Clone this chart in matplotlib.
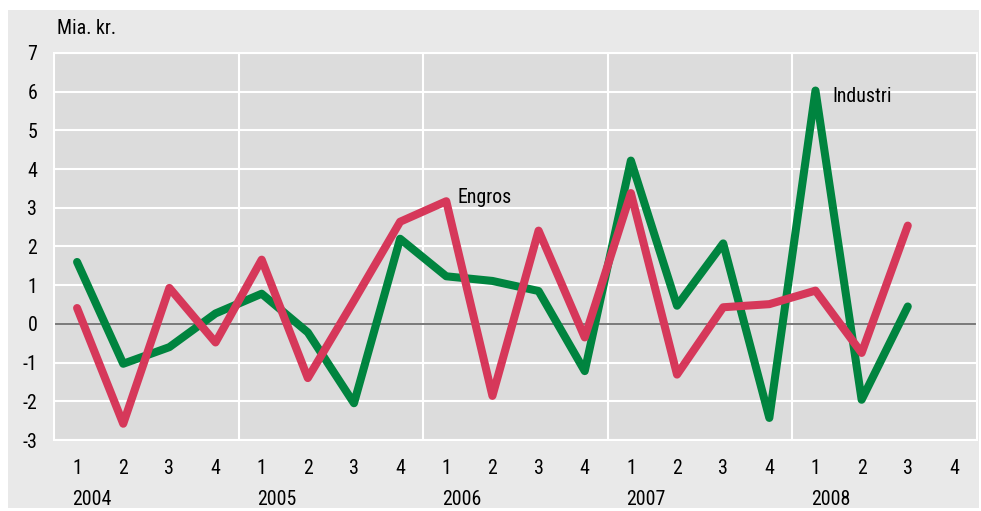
import matplotlib
matplotlib.use("Agg")
import matplotlib.pyplot as plt
from matplotlib.patches import Rectangle
from matplotlib import font_manager

quarters = ["1", "2", "3", "4"] * 5
years = ["2004", "2005", "2006", "2007", "2008"]
industri = [1.6, -1.03, -0.6, 0.27, 0.78, -0.22, -2.05, 2.2, 1.23, 1.11, 0.85, -1.22,
            4.22, 0.47, 2.08, -2.43, 6.03, -1.96, 0.45]
engros = [0.41, -2.58, 0.93, -0.48, 1.66, -1.4, 0.6, 2.64, 3.17, -1.86, 2.41, -0.35,
          3.38, -1.31, 0.43, 0.51, 0.86, -0.75, 2.54]

green = "#00843f"
red = "#d6385a"

names = {f.name for f in font_manager.fontManager.ttflist}
font = "Roboto"
for cand in ["Liberation Sans Narrow", "Roboto Condensed", "Open Sans Condensed"]:
    if cand in names:
        font = cand
        break
plt.rcParams["font.family"] = font
plt.rcParams["font.stretch"] = "condensed"
fs = 14.3

fig = plt.figure(figsize=(9.81, 5.11), dpi=100, facecolor="white")
# grey panel behind everything
panel = Rectangle((8 / 981, 1 - 508 / 511), 971 / 981, 498 / 511,
                  transform=fig.transFigure, facecolor="#e9e9e9",
                  edgecolor="none", zorder=-10)
fig.add_artist(panel)

ax = fig.add_axes([54 / 981, 1 - 440 / 511, 923 / 981, 387 / 511])
ax.set_facecolor("#dcdcdc")
ax.set_xlim(-0.5, 19.5)
ax.set_ylim(-3, 7)

for y in range(-3, 8):
    ax.axhline(y, color="white", lw=1.5, zorder=1)
for x in [3.5, 7.5, 11.5, 15.5]:
    ax.axvline(x, color="white", lw=1.5, zorder=1)
ax.axhline(0, color="#555555", lw=1.1, zorder=2)

xs = list(range(len(industri)))
ax.plot(xs, industri, color=green, lw=5.8, solid_capstyle="round",
        solid_joinstyle="round", zorder=3)
ax.plot(xs, engros, color=red, lw=5.8, solid_capstyle="round",
        solid_joinstyle="round", zorder=4)

ax.text(8.25, 3.26, "Engros", fontsize=fs, va="center", ha="left", zorder=5)
ax.text(16.36, 5.87, "Industri", fontsize=fs, va="center", ha="left", zorder=5)

for s in ax.spines.values():
    s.set_color("white")
    s.set_linewidth(1.5)

ax.set_yticks(range(-3, 8))
ax.set_yticklabels([str(v) for v in range(-3, 8)], fontsize=fs)
ax.set_xticks(range(20))
ax.set_xticklabels(quarters, fontsize=fs)
ax.tick_params(axis="y", length=0, pad=12)
ax.tick_params(axis="x", length=0, pad=14)

for i, yr in enumerate(years):
    ax.text(i * 4 - 0.1, -0.155, yr, transform=ax.get_xaxis_transform(),
            fontsize=fs, ha="left", va="center")

fig.text(57 / 981, 1 - 28 / 511, "Mia. kr.", fontsize=fs, ha="left", va="center")

fig.savefig("out.png", dpi=100, facecolor=fig.get_facecolor())
